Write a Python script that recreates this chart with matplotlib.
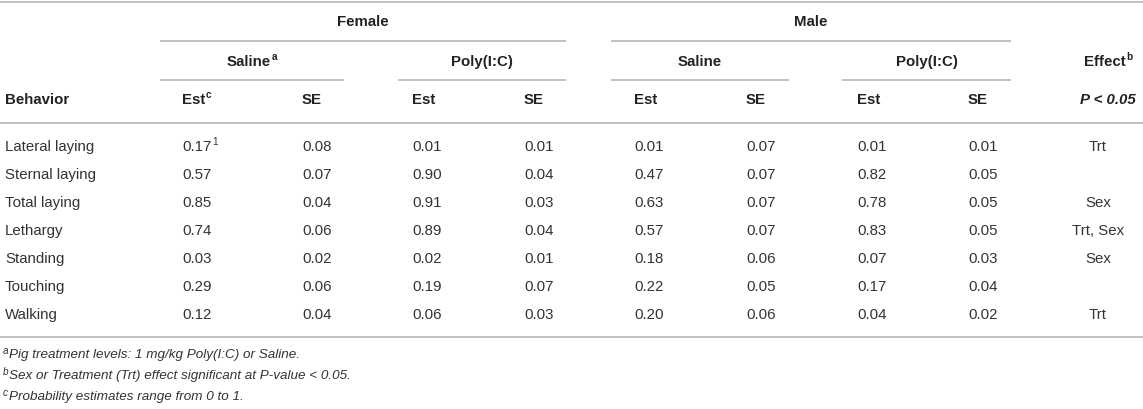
import matplotlib
matplotlib.use("Agg")
import matplotlib.pyplot as plt

# ---------------- data ----------------
behaviors = ["Lateral laying", "Sternal laying", "Total laying", "Lethargy",
             "Standing", "Touching", "Walking"]
female_saline_est = [0.17, 0.57, 0.85, 0.74, 0.03, 0.29, 0.12]
female_saline_se = [0.08, 0.07, 0.04, 0.06, 0.02, 0.06, 0.04]
female_poly_est = [0.01, 0.90, 0.91, 0.89, 0.02, 0.19, 0.06]
female_poly_se = [0.01, 0.04, 0.03, 0.04, 0.01, 0.07, 0.03]
male_saline_est = [0.01, 0.47, 0.63, 0.57, 0.18, 0.22, 0.20]
male_saline_se = [0.07, 0.07, 0.07, 0.07, 0.06, 0.05, 0.06]
male_poly_est = [0.01, 0.82, 0.78, 0.83, 0.07, 0.17, 0.04]
male_poly_se = [0.01, 0.05, 0.05, 0.05, 0.03, 0.04, 0.02]
effects = ["Trt", "", "Sex", "Trt, Sex", "Sex", "", "Trt"]
sex_labels = ["Female", "Male"]
treatment_labels = ["Saline", "Poly(I:C)"]
stat_labels = ["Est", "SE"]
footnotes = [("a", "Pig treatment levels: 1 mg/kg Poly(I:C) or Saline."),
             ("b", "Sex or Treatment (Trt) effect significant at P-value < 0.05."),
             ("c", "Probability estimates range from 0 to 1.")]

# ---------------- layout ----------------
W, H = 1143, 410
FONT = "Liberation Sans"
FS = 10.8
FS_SUP = 7.2
FS_FOOT = 9.7
C_TXT = "#333333"
C_HDR = "#222222"
C_LINE = "#b5b5b5"
LW = 1.2

fig = plt.figure(figsize=(W / 100, H / 100), dpi=100)
ax = fig.add_axes([0, 0, 1, 1])
ax.set_xlim(0, W)
ax.set_ylim(H, 0)
ax.axis("off")
renderer = fig.canvas.get_renderer()


def right_edge(t):
    bb = t.get_window_extent(renderer=renderer)
    inv = ax.transData.inverted()
    return inv.transform((bb.x1, bb.y0))[0]


def width_of(t):
    bb = t.get_window_extent(renderer=renderer)
    inv = ax.transData.inverted()
    return inv.transform((bb.x1, 0))[0] - inv.transform((bb.x0, 0))[0]


def txt(x, y, s, sup=None, ha="left", weight="normal", style="normal",
        color=C_TXT, size=FS):
    if sup is not None and ha == "center":
        t = ax.text(0, y, s, ha="left", va="center", fontsize=size,
                    family=FONT, weight=weight, style=style, color=color)
        ts = ax.text(0, y, sup, ha="left", va="center", fontsize=FS_SUP,
                     family=FONT, weight=weight, color=color)
        w = width_of(t) + width_of(ts) + 0.5
        ts.remove()
        t.set_x(x - w / 2)
        xr = right_edge(t)
        ax.text(xr + 0.5, y - 5, sup, ha="left", va="center", fontsize=FS_SUP,
                family=FONT, weight=weight, color=color)
        return t
    t = ax.text(x, y, s, ha=ha, va="center", fontsize=size, family=FONT,
                weight=weight, style=style, color=color)
    if sup is not None:
        xr = right_edge(t)
        ax.text(xr + 0.5, y - 5, sup, ha="left", va="center", fontsize=FS_SUP,
                family=FONT, weight=weight, color=color)
    return t


def hline(x0, x1, y):
    ax.plot([x0, x1], [y, y], color=C_LINE, lw=LW, solid_capstyle="butt")


# horizontal rules
y_top, y_sex_line, y_trt_line, y_hdr_line, y_bottom = 3, 42, 81, 124, 338
hline(0, W, y_top)
hline(0, W, y_hdr_line)
hline(0, W, y_bottom)

sex_spans = [(160, 566), (611, 1011)]
trt_spans = [[(160, 344), (398, 566)], [(611, 789), (842, 1011)]]
col_x = [[[182, 302], [412, 524]], [[634, 746], [857, 968]]]
effect_x = 1098
effect_hdr_x = 1108

y_sex, y_trt, y_col = 22.5, 62, 100
row_y0, row_dy = 147, 28.0

for si, sex in enumerate(sex_labels):
    x0, x1 = sex_spans[si]
    hline(x0, x1, y_sex_line)
    txt((x0 + x1) / 2, y_sex, sex, ha="center", weight="bold", color=C_HDR)
    for ti, trt in enumerate(treatment_labels):
        a0, a1 = trt_spans[si][ti]
        hline(a0, a1, y_trt_line)
        sup = "a" if (si == 0 and ti == 0) else None
        txt((a0 + a1) / 2, y_trt, trt, sup=sup, ha="center", weight="bold",
            color=C_HDR)
        for ki, st in enumerate(stat_labels):
            sup = "c" if (si == 0 and ti == 0 and ki == 0) else None
            txt(col_x[si][ti][ki], y_col, st, sup=sup, weight="bold",
                color=C_HDR)

txt(5, y_col, "Behavior", weight="bold", color=C_HDR)
txt(effect_hdr_x, y_trt, "Effect", sup="b", ha="center", weight="bold",
    color=C_HDR)
txt(effect_hdr_x, y_col, "P < 0.05", ha="center", weight="bold",
    style="italic", color=C_HDR)

series = [[female_saline_est, female_saline_se], [female_poly_est, female_poly_se],
          [male_saline_est, male_saline_se], [male_poly_est, male_poly_se]]

for r, beh in enumerate(behaviors):
    y = row_y0 + r * row_dy
    txt(5, y, beh)
    for g in range(4):
        si, ti = divmod(g, 2)
        for ki in range(2):
            v = series[g][ki][r]
            sup = "1" if (r == 0 and g == 0 and ki == 0) else None
            txt(col_x[si][ti][ki], y, f"{v:.2f}", sup=sup)
    if effects[r]:
        txt(effect_x, y, effects[r], ha="center")

foot_y = [355, 376, 397]
for (mark, note), y in zip(footnotes, foot_y):
    ts = ax.text(3, y - 4, mark, ha="left", va="center", fontsize=FS_SUP,
                 family=FONT, style="italic", color=C_TXT)
    xr = right_edge(ts)
    ax.text(xr + 0.8, y, note, ha="left", va="center", fontsize=FS_FOOT,
            family=FONT, style="italic", color=C_TXT)

fig.savefig("out.png", dpi=100)
